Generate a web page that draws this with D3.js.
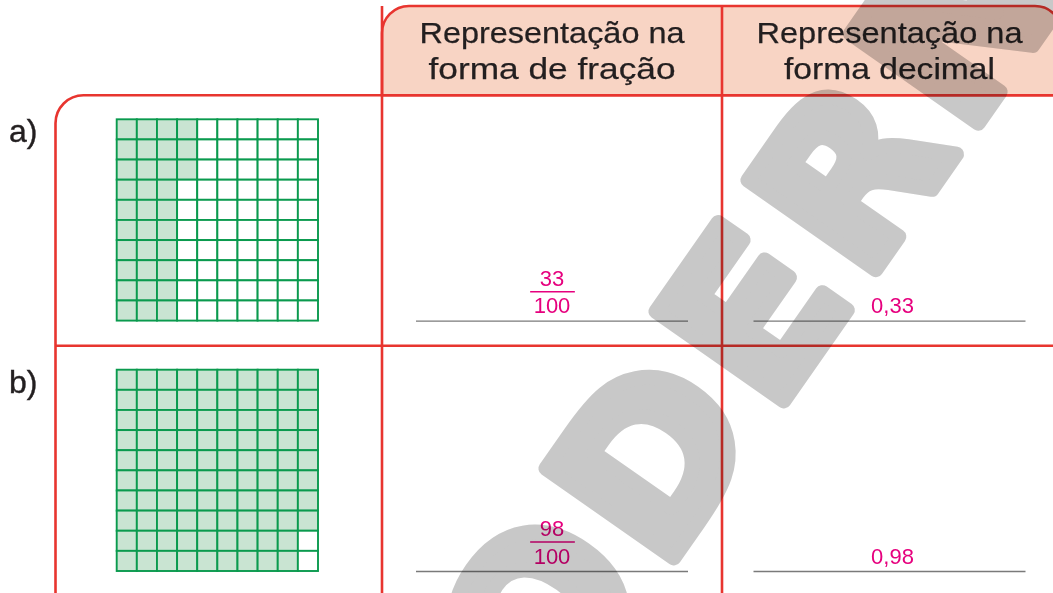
<!DOCTYPE html>
<html><head><meta charset="utf-8">
<script src="https://cdn.jsdelivr.net/npm/d3@7"></script>
<style>html,body{margin:0;padding:0;background:#fff;overflow:hidden}</style>
</head><body>
<svg id="chart" width="1053" height="593"></svg>
<script>
// ---------- data ----------
const rowLabels = ["a)", "b)"];
const shadedCounts = [33, 98];
const gridCells = 10;
const numerators = ["33", "98"];
const denominators = ["100", "100"];
const decimals = ["0,33", "0,98"];
const headerCol1 = ["Representação na", "forma de fração"];
const headerCol2 = ["Representação na", "forma decimal"];
const watermarkText = "MODERNA";

// ---------- style / layout ----------
const W = 1053, H = 593;
const RED = "#e8352f", GREEN = "#0a9a4e", LIGHT = "#c9e4d2", SALMON = "#f8d4c4",
      MAG = "#e6007e", INK = "#231f20", RULE = "#7a7a7a", WM = "#c8c8c8";
const FONT = "'Liberation Sans', Arial, Helvetica, sans-serif";
const xLeft = 55.5, xC1 = 382, xC2 = 722, xRight = 1062;
const yHeadTop = 6, yRowTop = 95.3, rowH = 250.4;
const headerWidths = [[265, 247], [266, 211]];

const svg = d3.select("#chart");
svg.append("rect").attr("width", W).attr("height", H).attr("fill", "#fff");

const rowY = d3.scaleBand().domain(d3.range(rowLabels.length))
  .range([yRowTop, yRowTop + rowH * rowLabels.length]);
const colCenter = d3.scaleOrdinal().domain(["frac", "dec"])
  .range([(xC1 + xC2) / 2, (xC2 + xRight) / 2 - 2.5]);

// header box
const r = 27;
svg.append("path")
  .attr("d", `M${xC1},${yRowTop} L${xC1},${yHeadTop + r} A${r},${r} 0 0 1 ${xC1 + r},${yHeadTop}
              L${xRight - r},${yHeadTop} A${r},${r} 0 0 1 ${xRight},${yHeadTop + r} L${xRight},${yRowTop} Z`)
  .attr("fill", SALMON).attr("stroke", RED).attr("stroke-width", 2.6);

// frame
const R = 28;
svg.append("path")
  .attr("d", `M${xLeft},${H + 5} L${xLeft},${yRowTop + R} A${R},${R} 0 0 1 ${xLeft + R},${yRowTop} L${W + 10},${yRowTop}`)
  .attr("fill", "none").attr("stroke", RED).attr("stroke-width", 2.6);
svg.selectAll("line.rowsep").data(d3.range(1, rowLabels.length)).join("line")
  .attr("x1", xLeft).attr("x2", W + 10)
  .attr("y1", d => rowY(d)).attr("y2", d => rowY(d))
  .attr("stroke", RED).attr("stroke-width", 2.6);
svg.selectAll("line.colsep").data([xC1, xC2]).join("line")
  .attr("x1", d => d).attr("x2", d => d).attr("y1", yHeadTop).attr("y2", H + 5)
  .attr("stroke", RED).attr("stroke-width", 2.6);

// header text
[headerCol1, headerCol2].forEach((lines, ci) => {
  const cx = colCenter(ci === 0 ? "frac" : "dec");
  svg.append("g").selectAll("text").data(lines).join("text")
    .attr("x", cx).attr("y", (d, i) => [42.7, 79][i])
    .attr("text-anchor", "middle")
    .attr("font-family", FONT).attr("font-size", 30).attr("fill", INK)
    .attr("stroke", INK).attr("stroke-width", 0.25)
    .attr("textLength", (d, i) => headerWidths[ci][i]).attr("lengthAdjust", "spacingAndGlyphs")
    .text(d => d);
});

// row labels
svg.selectAll("text.rowlab").data(rowLabels).join("text")
  .attr("x", 9).attr("y", (d, i) => rowY(i) + 47)
  .attr("font-family", FONT).attr("font-size", 32).attr("fill", INK)
  .attr("stroke", INK).attr("stroke-width", 0.4)
  .text(d => d);

// grids
const gx = d3.scaleBand().domain(d3.range(gridCells)).range([116.7, 318]);
shadedCounts.forEach((count, ri) => {
  const y0 = rowY(ri) + 24;
  const gy = d3.scaleBand().domain(d3.range(gridCells)).range([y0, y0 + 201.3]);
  const cells = d3.range(gridCells * gridCells).map(k => ({
    col: Math.floor(k / gridCells), row: k % gridCells, on: k < count
  }));
  svg.append("g").selectAll("rect").data(cells).join("rect")
    .attr("x", d => gx(d.col)).attr("y", d => gy(d.row))
    .attr("width", gx.bandwidth()).attr("height", gy.bandwidth())
    .attr("fill", d => d.on ? LIGHT : "#fff")
    .attr("stroke", GREEN).attr("stroke-width", 1.9);
});

// answers
rowLabels.forEach((lab, ri) => {
  const top = rowY(ri);
  const cf = colCenter("frac"), cd = colCenter("dec");
  [cf, cd].forEach(c => {
    svg.append("line").attr("x1", c - 136).attr("x2", c + 136)
      .attr("y1", top + 225.8).attr("y2", top + 225.8)
      .attr("stroke", RULE).attr("stroke-width", 1.3);
  });
  svg.append("text").attr("x", cf).attr("y", top + 190.5)
    .attr("text-anchor", "middle").attr("font-family", FONT).attr("font-size", 22)
    .attr("fill", MAG).text(numerators[ri]);
  const den = svg.append("text").attr("x", cf).attr("y", top + 217.8)
    .attr("text-anchor", "middle").attr("font-family", FONT).attr("font-size", 22)
    .attr("fill", MAG).text(denominators[ri]);
  const bw = den.node().getComputedTextLength() + 8;
  svg.append("line").attr("x1", cf - bw / 2 + 0.5).attr("x2", cf + bw / 2 + 0.5)
    .attr("y1", top + 196.4).attr("y2", top + 196.4)
    .attr("stroke", MAG).attr("stroke-width", 1.5);
  svg.append("text").attr("x", cd + 3).attr("y", top + 217.8)
    .attr("text-anchor", "middle").attr("font-family", FONT).attr("font-size", 22)
    .attr("fill", MAG).text(decimals[ri]);
});

// watermark
const wm = svg.append("g").style("mix-blend-mode", "multiply")
  .attr("transform", "translate(662.6,573.9) rotate(-55)");
const wt = wm.append("text").text(watermarkText)
  .attr("font-family", "'DejaVu Sans', sans-serif").attr("font-weight", "bold")
  .attr("font-size", 214).attr("letter-spacing", 14)
  .attr("fill", WM).attr("stroke", WM).attr("stroke-width", 15).attr("stroke-linejoin", "round");
const dStart = wt.node().getStartPositionOfChar(2).x;
wt.attr("x", -dStart);
</script>
</body></html>
